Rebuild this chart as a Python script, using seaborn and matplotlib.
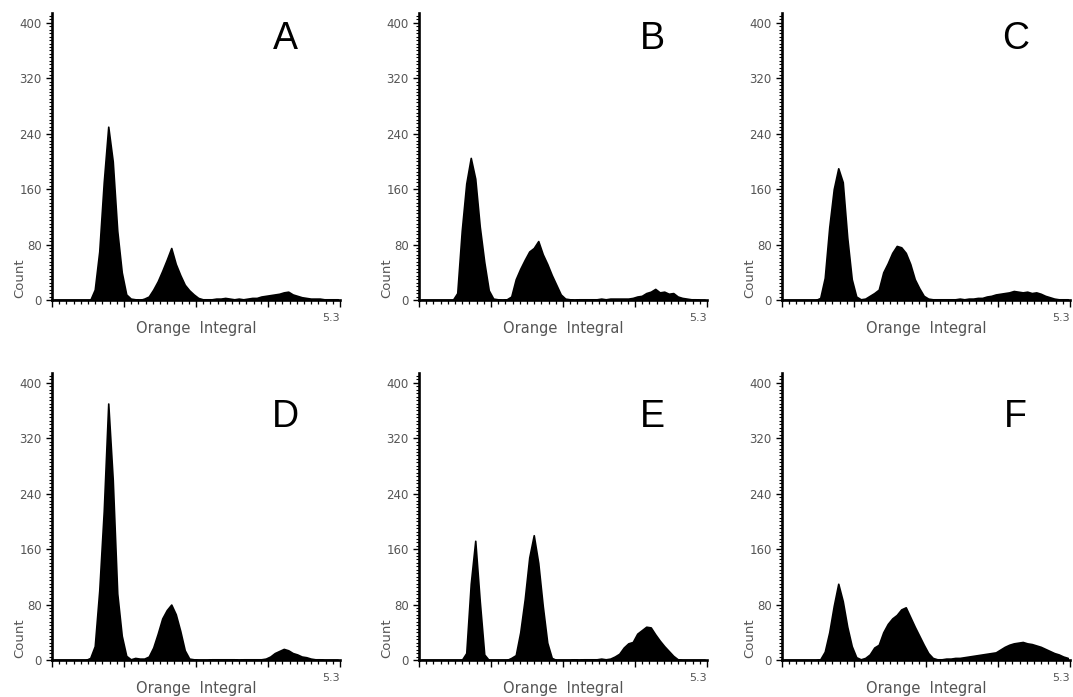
import numpy as np
import pandas as pd
import matplotlib
matplotlib.use("Agg")
import matplotlib.pyplot as plt
import seaborn as sns
from matplotlib.ticker import MultipleLocator

# ---- data: counts per 16-channel bin (64 bins, channels 0..1024) ----
panel_labels = ["A", "B", "C", "D", "E", "F"]
bin_width = 16
n_bins = 64

counts_A = [0, 0, 0, 0, 0, 0, 0, 0, 0, 15, 70, 170, 250, 200, 100, 40,
            8, 2, 1, 0, 2, 5, 15, 27, 42, 58, 75, 52, 36, 22, 14, 8,
            3, 1, 1, 1, 2, 2, 3, 2, 1, 2, 1, 2, 3, 3, 5, 6,
            7, 8, 9, 11, 12, 8, 6, 4, 3, 2, 2, 2, 1, 1, 1, 1]
counts_B = [0, 0, 0, 0, 0, 0, 0, 0, 10, 100, 168, 205, 175, 106, 55, 14,
            2, 1, 0, 1, 5, 30, 45, 58, 70, 75, 85, 66, 52, 36, 22, 8,
            2, 1, 0, 1, 1, 1, 1, 1, 2, 1, 2, 2, 2, 2, 2, 3,
            5, 6, 10, 12, 16, 11, 12, 9, 10, 5, 3, 2, 1, 1, 0, 0]
counts_C = [0, 0, 0, 0, 0, 0, 0, 0, 3, 32, 105, 160, 190, 170, 90, 30,
            5, 1, 2, 6, 10, 15, 40, 53, 68, 78, 76, 68, 52, 30, 17, 6,
            2, 1, 1, 1, 1, 1, 1, 2, 1, 2, 2, 3, 3, 5, 6, 8,
            9, 10, 11, 13, 12, 11, 12, 10, 11, 9, 6, 4, 2, 1, 1, 1]
counts_D = [0, 0, 0, 0, 0, 0, 0, 0, 3, 20, 100, 215, 370, 260, 96, 35,
            6, 1, 3, 2, 2, 5, 18, 38, 60, 72, 80, 66, 42, 14, 2, 1,
            0, 0, 0, 1, 1, 1, 1, 1, 1, 0, 1, 1, 1, 1, 1, 2,
            5, 10, 13, 16, 14, 10, 8, 5, 4, 2, 1, 1, 0, 0, 0, 0]
counts_E = [0, 0, 0, 0, 0, 0, 0, 0, 0, 0, 10, 110, 172, 85, 8, 0,
            0, 0, 0, 0, 3, 7, 40, 88, 148, 180, 140, 78, 25, 3, 0, 0,
            0, 0, 1, 0, 1, 1, 1, 1, 2, 1, 2, 5, 9, 18, 24, 26,
            38, 43, 48, 47, 37, 28, 20, 13, 6, 1, 0, 0, 0, 0, 0, 0]
counts_F = [0, 0, 0, 0, 0, 0, 0, 0, 1, 12, 40, 78, 110, 85, 48, 20,
            4, 1, 3, 8, 18, 22, 40, 52, 60, 65, 73, 76, 62, 48, 35, 22,
            10, 3, 1, 1, 2, 2, 3, 3, 4, 5, 6, 7, 8, 9, 10, 11,
            15, 19, 22, 24, 25, 26, 24, 23, 21, 19, 16, 13, 10, 8, 5, 3]
all_counts = [counts_A, counts_B, counts_C, counts_D, counts_E, counts_F]

y_ticks = [0, 80, 160, 240, 320, 400]
x_label = "Orange  Integral"
y_label = "Count"
x_end_label = "5.3"

# ---- figure ----
sns.set_theme(style="white")
plt.rcParams["font.family"] = ["DejaVu Sans"]

fig = plt.figure(figsize=(10.73, 6.97), dpi=100)
W, H = 1073, 697
col_left = [52, 419, 782]
row_bottom = [300, 660]
ax_w, ax_h = 288, 287
gray = "#555555"

centers = np.arange(n_bins) * bin_width + bin_width / 2

for i, (lab, cnt) in enumerate(zip(panel_labels, all_counts)):
    r, c = divmod(i, 3)
    ax = fig.add_axes([col_left[c] / W, 1 - row_bottom[r] / H, ax_w / W, ax_h / H])
    df = pd.DataFrame({"channel": centers, "count": np.asarray(cnt, dtype=float)})
    sns.histplot(data=df, x="channel", weights="count",
                 binwidth=bin_width, binrange=(0, n_bins * bin_width),
                 element="poly", fill=True, color="black", alpha=1.0,
                 linewidth=1.2, ax=ax)
    ax.set_xlim(0, 1024)
    ax.set_ylim(0, 414)
    ax.set_xlabel("")
    ax.set_ylabel("")
    for s in ["top", "right"]:
        ax.spines[s].set_visible(False)
    for s in ["left", "bottom"]:
        ax.spines[s].set_color("black")
        ax.spines[s].set_linewidth(1.9)
    ax.set_yticks(y_ticks)
    ax.set_yticklabels([str(v) for v in y_ticks])
    ax.yaxis.set_minor_locator(MultipleLocator(5))
    ax.xaxis.set_major_locator(MultipleLocator(256))
    ax.xaxis.set_minor_locator(MultipleLocator(25.6))
    ax.set_xticklabels([])
    ax.tick_params(axis="y", which="major", direction="out", length=4.5,
                   width=1.0, color="black", labelsize=8.5, labelcolor=gray, pad=3)
    ax.tick_params(axis="y", which="minor", direction="out", length=2.5,
                   width=0.8, color="black")
    ax.tick_params(axis="x", which="major", direction="out", length=5,
                   width=1.0, color="black")
    ax.tick_params(axis="x", which="minor", direction="out", length=3,
                   width=0.9, color="black")
    ax.tick_params(left=True, bottom=True, which="both")
    ax.grid(False)
    ax.set_facecolor("white")

    ax.text(-0.112, 0.075, y_label, rotation=90, ha="center", va="center",
            fontsize=9.5, color=gray, transform=ax.transAxes)
    ax.text(0.5, -0.098, x_label, ha="center", va="center",
            fontsize=10.5, color=gray, transform=ax.transAxes)
    ax.text(1.0, -0.063, x_end_label, ha="right", va="center",
            fontsize=8, color=gray, transform=ax.transAxes)
    ly = 0.91 if r == 0 else 0.845
    ax.text(0.81, ly, lab, ha="center", va="center", fontsize=27,
            color="black", family=["Liberation Sans", "DejaVu Sans"],
            transform=ax.transAxes)

fig.savefig("out.png", dpi=100, facecolor="white")
